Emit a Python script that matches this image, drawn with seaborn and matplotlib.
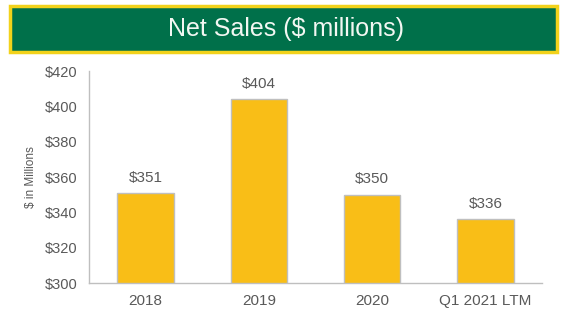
import matplotlib.pyplot as plt
import pandas as pd
import seaborn as sns
from matplotlib.patches import Rectangle

# Datos del gráfico
periodos = ['2018', '2019', '2020', 'Q1 2021 LTM']
ventas = [351, 404, 350, 336]
ticks_y = [300, 320, 340, 360, 380, 400, 420]

df = pd.DataFrame({'periodo': periodos, 'ventas': ventas})

sns.set_style('white')
plt.rcParams['font.family'] = ['Liberation Sans', 'DejaVu Sans']

gris = '#595959'
fig = plt.figure(figsize=(5.62, 3.13), dpi=100)
ax = fig.add_axes([89 / 562, 1 - 283 / 313, 453 / 562, 212 / 313])

sns.barplot(data=df, x='periodo', y='ventas', color='#F9BE17', width=0.5,
            edgecolor='#BFBFBF', linewidth=1, saturation=1, ax=ax)

ax.set_ylim(300, 420)
ax.set_yticks(ticks_y)
ax.set_yticklabels([f'${t}' for t in ticks_y])
ax.tick_params(axis='both', length=0, colors=gris)
ax.tick_params(axis='x', pad=8, labelsize=11)
ax.tick_params(axis='y', pad=8, labelsize=10.5)
ax.set_xlabel('')
ax.set_ylabel('$ in Millions', color=gris, fontsize=8.5, labelpad=6)

for s in ['top', 'right']:
    ax.spines[s].set_visible(False)
for s in ['left', 'bottom']:
    ax.spines[s].set_color('#BFBFBF')
    ax.spines[s].set_linewidth(1)

for i, v in enumerate(ventas):
    ax.annotate(f'${v}', (i, v), xytext=(0, 6), textcoords='offset points',
                ha='center', va='bottom', color=gris, fontsize=11)

# Cabecera verde con borde amarillo
fig.patches.append(Rectangle((10 / 562, 1 - 52 / 313), 547 / 562, 46 / 313,
                             transform=fig.transFigure, facecolor='#00704A',
                             edgecolor='#F2D21B', linewidth=2.5))
fig.text(286 / 562, 1 - 29 / 313, 'Net Sales ($ millions)', color='#F2F7F2',
         fontsize=18, ha='center', va='center')

plt.savefig('out.png', dpi=100)
